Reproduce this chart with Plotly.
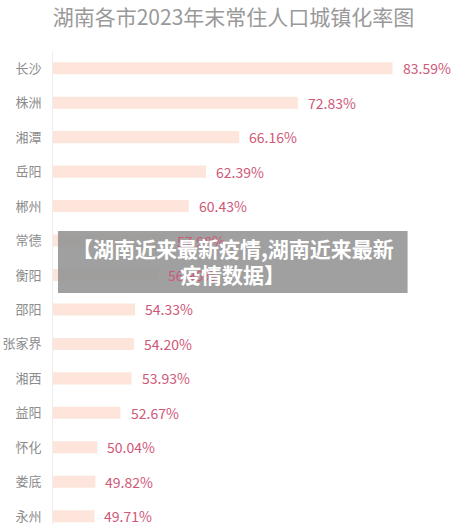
import plotly.graph_objects as go

title_text = "湖南各市2023年末常住人口城镇化率图"
cities = ["长沙", "株洲", "湘潭", "岳阳", "郴州", "常德", "衡阳",
          "邵阳", "张家界", "湘西", "益阳", "怀化", "娄底", "永州"]
rates = [83.59, 72.83, 66.16, 62.39, 60.43, 57.98, 56.96,
         54.33, 54.20, 53.93, 52.67, 50.04, 49.82, 49.71]
overlay_lines = ["【湖南近来最新疫情,湖南近来最新", "疫情数据】"]

W, H = 467, 525
ML, MT, MB = 53, 51, 0
XMIN, XMAX = 45, 90
PX_PER_UNIT = 8.81
plot_w = (XMAX - XMIN) * PX_PER_UNIT
MR = W - ML - plot_w
plot_h = H - MT - MB
FONT = "Noto Sans CJK SC"

fig = go.Figure()
fig.add_trace(go.Bar(
    x=rates, y=list(range(len(cities))), orientation="h",
    marker=dict(color="#fde5dc", line=dict(width=0)),
    width=0.35, hoverinfo="skip",
))

for i, v in enumerate(rates):
    fig.add_annotation(x=v, y=i, xref="x", yref="y", text=f"{v:.2f}%",
                       showarrow=False, xanchor="left", xshift=8,
                       font=dict(family=FONT, size=14, color="#cf5877"))

def px_to_paper(px, py):
    return (px - ML) / plot_w, (H - MB - py) / plot_h

x0, y0 = px_to_paper(58, 293)
x1, y1 = px_to_paper(408, 231)
fig.add_shape(type="rect", xref="paper", yref="paper", x0=x0, x1=x1, y0=y0, y1=y1,
              fillcolor="rgba(150,150,150,0.9)", line=dict(width=0), layer="above")
cx, _ = px_to_paper(233, 0)
for j, (line, py) in enumerate(zip(overlay_lines, [248, 274])):
    _, yy = px_to_paper(0, py)
    fig.add_annotation(x=cx, y=yy, xref="paper", yref="paper", text=f"<b>{line}</b>",
                       showarrow=False, xanchor="center", yanchor="middle",
                       font=dict(family=FONT, size=21, color="white"))

fig.update_layout(
    width=W, height=H,
    margin=dict(l=ML, r=MR, t=MT, b=MB, pad=0),
    paper_bgcolor="white", plot_bgcolor="white",
    showlegend=False,
    title=dict(text=title_text, x=0.5, xanchor="center", y=1 - 18 / H, yanchor="middle",
               font=dict(family=FONT, size=21, color="#999999")),
    xaxis=dict(range=[XMIN, XMAX], showgrid=False, zeroline=False, showticklabels=False,
               showline=False, fixedrange=True),
    yaxis=dict(range=[len(cities) - 1 + (plot_h / 34.46 - len(cities)) + 0.5, -0.5],
               tickmode="array", tickvals=list(range(len(cities))), ticktext=cities,
               showgrid=False, zeroline=False, showline=True, linecolor="#eeeeee", linewidth=1,
               ticks="", ticklabelstandoff=8, fixedrange=True,
               tickfont=dict(family=FONT, size=13, color="#8c8c8c")),
)

fig.write_html("out.html", config={"displayModeBar": False, "staticPlot": True},
               post_script="document.body.style.margin='0';document.body.style.overflow='hidden';")
